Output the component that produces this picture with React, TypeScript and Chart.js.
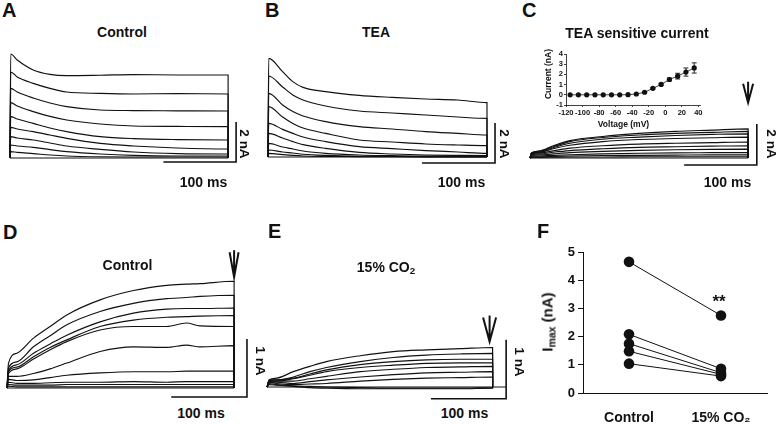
import React, { useEffect, useRef } from "react";
import { Chart, registerables } from "chart.js";

Chart.register(...registerables);

const FONT = '"Liberation Sans", Arial, Helvetica, sans-serif';
const INK = "#111";

// ---------- Panel A: Control (time ms, current nA)
const timeA = [1, 10, 32, 55, 78, 124, 170, 230, 300];
const ctrlA1 = [5.2, 4.9, 4.4, 4.18, 4.12, 4.14, 4.17, 4.15, 4.15];
const ctrlA2 = [4.3, 4.05, 3.73, 3.48, 3.3, 3.23, 3.2, 3.22, 3.2];
const ctrlA3 = [3.48, 3.3, 3.0, 2.75, 2.57, 2.4, 2.37, 2.36, 2.35];
const ctrlA4 = [2.77, 2.6, 2.32, 2.08, 1.9, 1.7, 1.6, 1.58, 1.57];
const ctrlA5 = [2.07, 1.95, 1.73, 1.5, 1.32, 1.07, 0.97, 0.92, 0.9];
const ctrlA6 = [1.53, 1.45, 1.32, 1.15, 0.98, 0.73, 0.6, 0.5, 0.45];
const ctrlA7 = [1.07, 1.0, 0.9, 0.75, 0.6, 0.43, 0.3, 0.22, 0.2];
const ctrlA8 = [0.65, 0.6, 0.53, 0.42, 0.32, 0.2, 0.13, 0.1, 0.1];
const ctrlA9 = [0.32, 0.28, 0.22, 0.15, 0.1, 0.06, 0.05, 0.05, 0.05];
const ctrlA10 = [0, 0, 0, 0, 0, 0, 0, 0, 0];

// ---------- Panel B: TEA
const timeB = [1, 20, 34, 48, 79, 125, 170, 216, 260, 300];
const teaB1 = [4.93, 4.27, 3.77, 3.48, 3.27, 3.08, 2.98, 2.9, 2.85, 2.72];
const teaB2 = [4.05, 3.5, 3.1, 2.85, 2.55, 2.3, 2.2, 2.1, 2.0, 1.93];
const teaB3 = [3.18, 2.6, 2.27, 2.05, 1.77, 1.52, 1.4, 1.27, 1.18, 1.1];
const teaB4 = [2.52, 2.0, 1.68, 1.45, 1.18, 0.85, 0.75, 0.65, 0.6, 0.57];
const teaB5 = [1.68, 1.38, 1.18, 1.0, 0.77, 0.52, 0.42, 0.32, 0.25, 0.18];
const teaB6 = [1.18, 0.95, 0.77, 0.62, 0.43, 0.23, 0.15, 0.1, 0.08, 0.07];
const teaB7 = [0.68, 0.5, 0.4, 0.3, 0.18, 0.1, 0.07, 0.05, 0.05, 0.05];
const teaB8 = [0.35, 0.25, 0.2, 0.14, 0.08, 0.04, 0.03, 0.02, 0.02, 0.02];
const teaB9 = [0.18, 0.12, 0.08, 0.05, 0.03, 0.02, 0.01, 0.01, 0, 0];
const teaB10 = [0, 0, 0, 0, 0, 0, 0, 0, 0, 0];

// ---------- Panel C: TEA sensitive current
const timeC = [2, 14, 32, 55, 100, 150, 200, 250, 300];
const sensC1 = [0.25, 0.35, 0.6, 0.85, 1.05, 1.2, 1.3, 1.36, 1.42];
const sensC2 = [0.25, 0.33, 0.55, 0.8, 1.0, 1.12, 1.2, 1.25, 1.3];
const sensC3 = [0.22, 0.3, 0.5, 0.72, 0.92, 1.02, 1.1, 1.15, 1.18];
const sensC4 = [0.2, 0.28, 0.45, 0.62, 0.8, 0.9, 0.95, 0.99, 1.02];
const sensC5 = [0.2, 0.25, 0.35, 0.48, 0.6, 0.68, 0.72, 0.75, 0.78];
const sensC6 = [0.15, 0.2, 0.28, 0.36, 0.45, 0.52, 0.55, 0.58, 0.6];
const sensC7 = [0.12, 0.15, 0.2, 0.26, 0.32, 0.37, 0.4, 0.42, 0.43];
const sensC8 = [0.1, 0.1, 0.13, 0.16, 0.2, 0.23, 0.25, 0.26, 0.27];
const sensC9 = [0.06, 0.06, 0.08, 0.1, 0.12, 0.13, 0.14, 0.15, 0.15];
const sensC10 = [0.03, 0.03, 0.04, 0.05, 0.05, 0.06, 0.06, 0.06, 0.06];
const sensC11 = [0, 0, 0, 0, 0, 0, 0, 0, 0];

// ---------- Inset: I-V relation
const ivVoltage = [-115, -105, -95, -85, -75, -65, -55, -45, -35, -25, -15, -5, 5, 15, 25, 35];
const ivCurrent = [0, 0, 0, 0, 0, 0, 0, 0.01, 0.08, 0.25, 0.63, 1.02, 1.5, 1.83, 2.23, 2.63];
const ivSem = [0, 0, 0, 0, 0, 0, 0, 0, 0.02, 0.05, 0.08, 0.1, 0.15, 0.28, 0.4, 0.5];
const ivVoltTicks = [-120, -100, -80, -60, -40, -20, 0, 20, 40];
const ivCurrentTicks = [-1, 0, 1, 2, 3, 4];

// ---------- Panel D: Control
const timeD = [2, 13, 35, 57, 79, 123, 167, 211, 237, 255, 300];
const ctrlD1 = [0.43, 0.6, 0.86, 1.06, 1.26, 1.52, 1.68, 1.77, 1.79, 1.8, 1.84];
const ctrlD2 = [0.35, 0.45, 0.71, 0.9, 1.09, 1.32, 1.46, 1.54, 1.56, 1.58, 1.6];
const ctrlD3 = [0.3, 0.4, 0.6, 0.76, 0.91, 1.14, 1.29, 1.36, 1.37, 1.37, 1.38];
const ctrlD4 = [0.28, 0.36, 0.54, 0.7, 0.83, 1.06, 1.17, 1.22, 1.23, 1.24, 1.25];
const ctrlD5 = [0.25, 0.33, 0.5, 0.66, 0.8, 1.0, 1.06, 1.06, 1.12, 1.07, 1.06];
const ctrlD6 = [0.2, 0.2, 0.25, 0.33, 0.43, 0.63, 0.71, 0.7, 0.74, 0.71, 0.73];
const ctrlD7 = [0.15, 0.13, 0.14, 0.18, 0.22, 0.26, 0.28, 0.28, 0.29, 0.29, 0.29];
const ctrlD8 = [0.1, 0.08, 0.08, 0.09, 0.1, 0.1, 0.11, 0.1, 0.11, 0.11, 0.11];
const ctrlD9 = [0.06, 0.05, 0.05, 0.05, 0.06, 0.06, 0.06, 0.06, 0.06, 0.06, 0.06];
const ctrlD10 = [0.03, 0.02, 0.02, 0.02, 0.02, 0.02, 0.02, 0.02, 0.02, 0.02, 0.02];
const ctrlD11 = [0, 0, 0, 0, 0, 0, 0, 0, 0, 0, 0];

// ---------- Panel E: 15% CO2
const timeE = [3, 13, 35, 57, 79, 124, 168, 212, 257, 300];
const co2E1 = [0.12, 0.15, 0.26, 0.35, 0.43, 0.53, 0.6, 0.63, 0.65, 0.67];
const co2E2 = [0.12, 0.12, 0.17, 0.26, 0.33, 0.43, 0.5, 0.54, 0.56, 0.57];
const co2E3 = [0.1, 0.12, 0.15, 0.22, 0.29, 0.38, 0.43, 0.46, 0.47, 0.47];
const co2E4 = [0.1, 0.1, 0.14, 0.2, 0.26, 0.33, 0.37, 0.4, 0.41, 0.41];
const co2E5 = [0.1, 0.1, 0.1, 0.14, 0.18, 0.26, 0.3, 0.33, 0.34, 0.35];
const co2E6 = [0.08, 0.08, 0.06, 0.09, 0.12, 0.17, 0.21, 0.24, 0.25, 0.26];
const co2E7 = [0.08, 0.06, 0.04, 0.05, 0.06, 0.1, 0.13, 0.15, 0.16, 0.17];
const co2E8 = [0.06, 0.04, 0.02, 0.01, 0.0, -0.01, -0.02, -0.02, -0.02, -0.01];
const co2E9 = [0.04, 0.03, 0.01, -0.01, -0.02, -0.03, -0.03, -0.03, -0.03, -0.02];
const co2E10 = [0, 0, 0, 0, 0, 0, 0, 0, 0, 0];

// ---------- Panel F: Imax
const conditionLabels = ["Control", "15% CO\u2082"];
const imaxControl = [4.65, 2.08, 1.75, 1.48, 1.04];
const imaxCO2 = [2.75, 0.86, 0.72, 0.66, 0.6];
const imaxTicks = [0, 1, 2, 3, 4, 5];

type Geo = { left: number; top: number; width: number; height: number; x0: number; pxX: number; y0: number; pxY: number };
type Overlay = {
  barX: number; barY: number; barLenX: number; barLenY: number;
  arrow?: { x: number; y: number; w: number; h: number };
  zeroTo?: boolean;
};

function buildTrace(time: number[], values: number[]) {
  const pts = [{ x: 0, y: 0 }];
  time.forEach((t, i) => pts.push({ x: t, y: values[i] }));
  pts.push({ x: time[time.length - 1], y: 0 });
  return pts;
}

function TracePanel({ geo, time, traces, overlay }: { geo: Geo; time: number[]; traces: number[][]; overlay: Overlay }) {
  const ref = useRef<HTMLCanvasElement>(null);
  useEffect(() => {
    const xMin = (geo.left - geo.x0) / geo.pxX;
    const xMax = (geo.left + geo.width - geo.x0) / geo.pxX;
    const yMax = (geo.y0 - geo.top) / geo.pxY;
    const yMin = (geo.y0 - geo.top - geo.height) / geo.pxY;
    const overlayPlugin = {
      id: "overlay",
      afterDatasetsDraw(chart: any) {
        const { ctx } = chart;
        const xs = chart.scales.x;
        const ys = chart.scales.y;
        ctx.save();
        ctx.strokeStyle = INK;
        ctx.lineWidth = 1.6;
        const cx = xs.getPixelForValue(overlay.barX);
        const cy = ys.getPixelForValue(overlay.barY);
        ctx.beginPath();
        ctx.moveTo(xs.getPixelForValue(overlay.barX - overlay.barLenX), cy);
        ctx.lineTo(cx, cy);
        ctx.lineTo(cx, ys.getPixelForValue(overlay.barY + overlay.barLenY));
        ctx.stroke();
        if (overlay.zeroTo) {
          ctx.lineWidth = 1;
          ctx.beginPath();
          ctx.moveTo(xs.getPixelForValue(time[time.length - 1]), ys.getPixelForValue(0));
          ctx.lineTo(cx, ys.getPixelForValue(0));
          ctx.stroke();
        }
        if (overlay.arrow) {
          const a = overlay.arrow;
          const ax = xs.getPixelForValue(a.x);
          const ay = ys.getPixelForValue(a.y);
          ctx.lineWidth = 2;
          ctx.beginPath();
          ctx.moveTo(ax, ay - a.h - 2);
          ctx.lineTo(ax, ay);
          ctx.moveTo(ax - a.w, ay - a.h);
          ctx.lineTo(ax, ay);
          ctx.lineTo(ax + a.w, ay - a.h);
          ctx.stroke();
        }
        ctx.restore();
      },
    };
    const chart = new Chart(ref.current as HTMLCanvasElement, {
      type: "line",
      data: {
        datasets: traces.map((tr) => ({
          data: buildTrace(time, tr),
          borderColor: INK,
          borderWidth: 1.15,
          pointRadius: 0,
          cubicInterpolationMode: "monotone",
          fill: false,
        })),
      },
      options: {
        animation: false,
        responsive: false,
        events: [],
        layout: { padding: 0 },
        plugins: { legend: { display: false }, tooltip: { enabled: false } },
        scales: {
          x: { type: "linear", display: false, min: xMin, max: xMax },
          y: { type: "linear", display: false, min: yMin, max: yMax },
        },
      } as any,
      plugins: [overlayPlugin],
    });
    return () => chart.destroy();
  }, []);
  return (
    <canvas
      ref={ref}
      width={geo.width}
      height={geo.height}
      style={{ position: "absolute", left: geo.left, top: geo.top, width: geo.width, height: geo.height }}
    />
  );
}

function IVInset() {
  const ref = useRef<HTMLCanvasElement>(null);
  useEffect(() => {
    const errPlugin = {
      id: "errbars",
      afterDatasetsDraw(chart: any) {
        const { ctx } = chart;
        const xs = chart.scales.x;
        const ys = chart.scales.y;
        ctx.save();
        ctx.strokeStyle = INK;
        ctx.lineWidth = 0.9;
        ivVoltage.forEach((v, i) => {
          if (ivSem[i] <= 0.04) return;
          const x = xs.getPixelForValue(v);
          const yt = ys.getPixelForValue(ivCurrent[i] + ivSem[i]);
          const yb = ys.getPixelForValue(ivCurrent[i] - ivSem[i]);
          ctx.beginPath();
          ctx.moveTo(x, yt);
          ctx.lineTo(x, yb);
          ctx.moveTo(x - 2.5, yt);
          ctx.lineTo(x + 2.5, yt);
          ctx.moveTo(x - 2.5, yb);
          ctx.lineTo(x + 2.5, yb);
          ctx.stroke();
        });
        ctx.restore();
      },
    };
    const tickFont = { family: FONT, size: 7.5, weight: "bold" };
    const chart = new Chart(ref.current as HTMLCanvasElement, {
      type: "line",
      data: {
        datasets: [
          {
            data: ivVoltage.map((v, i) => ({ x: v, y: ivCurrent[i] })),
            borderColor: INK,
            borderWidth: 0.8,
            pointRadius: 2.6,
            pointBackgroundColor: INK,
            pointBorderWidth: 0,
            tension: 0,
          },
        ],
      },
      options: {
        animation: false,
        responsive: false,
        events: [],
        layout: { padding: { top: 9, right: 10, left: 0, bottom: 0 } },
        plugins: { legend: { display: false }, tooltip: { enabled: false } },
        scales: {
          x: {
            type: "linear",
            min: -120,
            max: 42,
            afterFit: (s: any) => { s.height = 20; },
            afterBuildTicks: (s: any) => { s.ticks = ivVoltTicks.map((v) => ({ value: v })); },
            grid: { display: true, drawOnChartArea: false, drawTicks: true, tickLength: 2, color: INK, lineWidth: 0.8 },
            border: { display: true, color: INK, width: 0.8 },
            ticks: { font: tickFont, color: INK, padding: 1, maxRotation: 0, autoSkip: false, callback: (v: any) => String(v) },
          },
          y: {
            type: "linear",
            min: -1,
            max: 4,
            afterFit: (s: any) => { s.width = 36; },
            afterBuildTicks: (s: any) => { s.ticks = ivCurrentTicks.map((v) => ({ value: v })); },
            grid: { display: true, drawOnChartArea: false, drawTicks: true, tickLength: 2, color: INK, lineWidth: 0.8 },
            border: { display: true, color: INK, width: 0.8 },
            ticks: { font: tickFont, color: INK, padding: 1, autoSkip: false, callback: (v: any) => String(v) },
          },
        },
      } as any,
      plugins: [errPlugin],
    });
    return () => chart.destroy();
  }, []);
  return <canvas ref={ref} width={180} height={80} style={{ position: "absolute", left: 530, top: 45, width: 180, height: 80 }} />;
}

function ImaxPanel() {
  const ref = useRef<HTMLCanvasElement>(null);
  useEffect(() => {
    const chart = new Chart(ref.current as HTMLCanvasElement, {
      type: "line",
      data: {
        labels: conditionLabels,
        datasets: imaxControl.map((c, i) => ({
          data: [c, imaxCO2[i]],
          borderColor: INK,
          borderWidth: 1,
          pointRadius: 5.3,
          pointBackgroundColor: INK,
          pointBorderColor: INK,
          pointBorderWidth: 0,
          tension: 0,
          clip: false,
        })),
      },
      options: {
        animation: false,
        responsive: false,
        events: [],
        layout: { padding: { top: 12, right: 10, left: 0, bottom: 0 } },
        plugins: { legend: { display: false }, tooltip: { enabled: false } },
        scales: {
          x: {
            type: "category",
            offset: true,
            afterFit: (s: any) => { s.height = 31; },
            grid: { display: false },
            border: { display: true, color: INK, width: 1 },
            ticks: { font: { family: FONT, size: 14, weight: "bold" }, color: INK, padding: 9, maxRotation: 0 },
          },
          y: {
            type: "linear",
            min: 0,
            max: 5,
            afterFit: (s: any) => { s.width = 63; },
            afterBuildTicks: (s: any) => { s.ticks = imaxTicks.map((v) => ({ value: v })); },
            grid: { display: true, drawOnChartArea: false, drawTicks: true, tickLength: 5, color: INK },
            border: { display: true, color: INK, width: 1 },
            ticks: { font: { family: FONT, size: 13, weight: "bold" }, color: INK, padding: 3, callback: (v: any) => String(v) },
          },
        },
      } as any,
    });
    return () => chart.destroy();
  }, []);
  return <canvas ref={ref} width={257} height={184} style={{ position: "absolute", left: 520, top: 240, width: 257, height: 184 }} />;
}

function Label({ x, y, size, rotate = 0, align = "left", children }: { x: number; y: number; size: number; rotate?: number; align?: string; children: any }) {
  const style: any = {
    position: "absolute",
    whiteSpace: "nowrap",
    fontFamily: FONT,
    fontWeight: 700,
    fontSize: size,
    lineHeight: `${size}px`,
    color: INK,
  };
  if (rotate) {
    style.left = x;
    style.top = y;
    style.transform = `translate(-50%, -50%) rotate(${rotate}deg)`;
  } else {
    style.left = x;
    style.top = y - 0.85 * size;
    if (align === "center") style.transform = "translateX(-50%)";
  }
  return <div style={style}>{children}</div>;
}

const subStyle = { fontSize: "0.7em", verticalAlign: "-0.25em", lineHeight: 0 };

export default function App() {
  return (
    <div style={{ position: "absolute", left: 0, top: 0, width: 777, height: 424, overflow: "hidden", background: "#fff" }}>
      <TracePanel
        geo={{ left: 0, top: 40, width: 258, height: 135, x0: 10, pxX: 0.727, y0: 158, pxY: 20 }}
        time={timeA}
        traces={[ctrlA1, ctrlA2, ctrlA3, ctrlA4, ctrlA5, ctrlA6, ctrlA7, ctrlA8, ctrlA9, ctrlA10]}
        overlay={{ barX: 311, barY: -0.2, barLenX: 100, barLenY: 2 }}
      />
      <TracePanel
        geo={{ left: 258, top: 40, width: 258, height: 135, x0: 268, pxX: 0.73, y0: 157, pxY: 20 }}
        time={timeB}
        traces={[teaB1, teaB2, teaB3, teaB4, teaB5, teaB6, teaB7, teaB8, teaB9, teaB10]}
        overlay={{ barX: 311, barY: -0.3, barLenX: 100, barLenY: 2 }}
      />
      <TracePanel
        geo={{ left: 516, top: 76, width: 261, height: 100, x0: 530, pxX: 0.727, y0: 158, pxY: 20.5 }}
        time={timeC}
        traces={[sensC1, sensC2, sensC3, sensC4, sensC5, sensC6, sensC7, sensC8, sensC9, sensC10, sensC11]}
        overlay={{ barX: 312, barY: -0.34, barLenX: 100, barLenY: 2, arrow: { x: 300, y: 2.7, w: 5, h: 19 } }}
      />
      <IVInset />
      <TracePanel
        geo={{ left: 0, top: 245, width: 258, height: 160, x0: 7, pxX: 0.757, y0: 388, pxY: 58 }}
        time={timeD}
        traces={[ctrlD1, ctrlD2, ctrlD3, ctrlD4, ctrlD5, ctrlD6, ctrlD7, ctrlD8, ctrlD9, ctrlD10, ctrlD11]}
        overlay={{ barX: 317, barY: -0.155, barLenX: 100, barLenY: 1, arrow: { x: 300, y: 1.91, w: 4.5, h: 25 } }}
      />
      <TracePanel
        geo={{ left: 258, top: 300, width: 258, height: 105, x0: 267, pxX: 0.752, y0: 387, pxY: 59 }}
        time={timeE}
        traces={[co2E1, co2E2, co2E3, co2E4, co2E5, co2E6, co2E7, co2E8, co2E9, co2E10]}
        overlay={{ barX: 318, barY: -0.2, barLenX: 100, barLenY: 1, zeroTo: true, arrow: { x: 296, y: 0.77, w: 6.5, h: 24 } }}
      />
      <ImaxPanel />

      <Label x={2} y={17} size={20}>A</Label>
      <Label x={265} y={17} size={20}>B</Label>
      <Label x={522} y={17} size={20}>C</Label>
      <Label x={3} y={239} size={20}>D</Label>
      <Label x={268} y={238} size={20}>E</Label>
      <Label x={537} y={238} size={20}>F</Label>

      <Label x={122} y={37} size={14} align="center">Control</Label>
      <Label x={376} y={37} size={14} align="center">TEA</Label>
      <Label x={637} y={38} size={14} align="center">TEA sensitive current</Label>
      <Label x={127.5} y={270} size={14} align="center">Control</Label>
      <Label x={386} y={272} size={14} align="center">15% CO<span style={subStyle}>2</span></Label>

      <Label x={244} y={144} size={13.5} rotate={90}>2 nA</Label>
      <Label x={504} y={144} size={13.5} rotate={90}>2 nA</Label>
      <Label x={771} y={144} size={13.5} rotate={90}>2 nA</Label>
      <Label x={260} y={361} size={13.5} rotate={90}>1 nA</Label>
      <Label x={519} y={362} size={13.5} rotate={90}>1 nA</Label>

      <Label x={203.5} y={187} size={14} align="center">100 ms</Label>
      <Label x={461.5} y={187} size={14} align="center">100 ms</Label>
      <Label x={727.5} y={187} size={14} align="center">100 ms</Label>
      <Label x={201} y={418} size={14} align="center">100 ms</Label>
      <Label x={464.5} y={418} size={14} align="center">100 ms</Label>

      <Label x={548} y={74} size={8.5} rotate={-90}>Current (nA)</Label>
      <Label x={623.5} y={127} size={8.5} align="center">Voltage (mV)</Label>

      <Label x={547} y={322} size={15} rotate={-90}>I<span style={subStyle}>max</span> (nA)</Label>
      <Label x={719} y={307} size={17} align="center">**</Label>
    </div>
  );
}
